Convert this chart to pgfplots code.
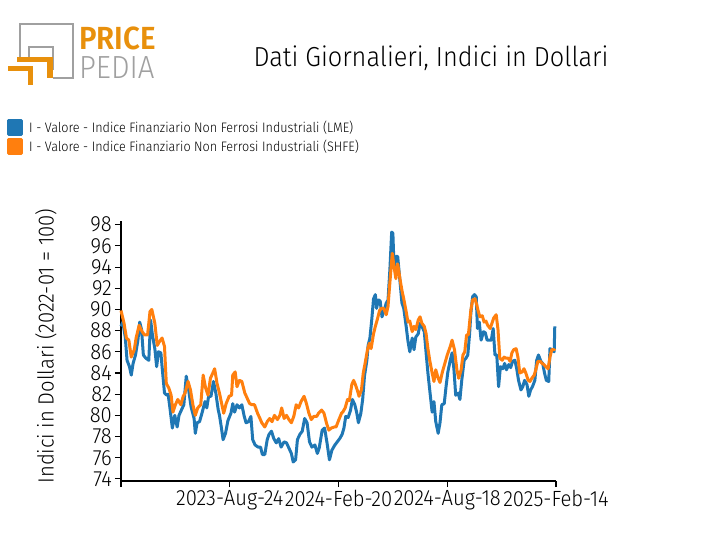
\documentclass[border=0pt]{standalone}
\usepackage{pgfplots}
\pgfplotsset{compat=1.18}
\usepackage{fontspec}
\setmainfont{Fira Sans}[UprightFont=* Light, BoldFont=* SemiBold, FakeStretch=0.92]
\definecolor{lmeblue}{HTML}{1F77B4}
\definecolor{shfeorange}{HTML}{FF7F0E}
\definecolor{ppgray}{HTML}{A0A0A0}
\definecolor{pporange}{HTML}{E8900C}
\begin{document}
\begin{tikzpicture}[x=1pt,y=1pt]
\begin{axis}[scale only axis,
  width=435pt, height=260pt,
  xmin=0, xmax=720, ymin=73.8, ymax=98.35,
  axis lines=left, axis line style={-, line width=1.3pt, black},
  tick align=outside, major tick length=6pt,
  tick style={black, line width=1.1pt},
  ytick={74,76,...,98},
  xtick={0,180,360,540,720},
  xticklabels={,2023-Aug-24,2024-Feb-20,2024-Aug-18,2025-Feb-14},
  /pgf/number format/assume math mode=true,
  tick label style={font=\fontsize{22}{22}\selectfont},
  yticklabel style={inner xsep=3pt},
  xticklabel style={inner ysep=3pt},
  ylabel={Indici in Dollari (2022-01 = 100)},
  every axis y label/.style={at={(axis description cs:-0.1724,0.519)}, rotate=90, anchor=center, font=\fontsize{22}{22}\selectfont},
  legend style={at={(axis description cs:-0.262,1.392)}, anchor=north west, draw=none, fill=none, inner sep=0pt, font=\fontsize{13.7}{13.7}\selectfont, row sep=2pt, nodes={inner sep=0pt, anchor=west}, /tikz/every odd column/.append style={column sep=6pt}},
  legend cell align=left,
  legend image code/.code={\fill[#1] (0pt,-7pt) rectangle (13pt,7pt);},
  clip=false,
]
\coordinate (O) at (rel axis cs:0,0);
\addplot[lmeblue, line width=3pt, line join=round] coordinates {
(0,88.4)(3,88.8)(7,87.4)(10,85.2)(14,84.6)(17,83.8)(20,84.9)(24,85.7)(28,87.1)(31,88.8)(34,88.1)(37,85.7)(41,85.4)(46,85.2)(49,89.0)(52,87.6)(56,86.3)(59,84.6)(62,86.0)(66,85.9)(68,84.6)(72,82.1)(76,81.9)(78,82.0)(81,80.7)(85,78.8)(89,80.0)(93,78.9)(96,80.0)(100,80.5)(104,81.0)(108,83.7)(112,82.4)(116,80.8)(121,79.7)(123,78.3)(126,79.3)(130,79.4)(134,80.2)(139,81.3)(142,80.7)(145,81.8)(149,81.8)(153,83.2)(157,82.1)(161,80.5)(163,80.0)(166,78.9)(169,77.7)(173,78.3)(177,79.5)(182,80.2)(185,81.1)(188,80.3)(192,81.0)(196,80.7)(200,81.0)(204,79.9)(207,79.3)(211,79.4)(215,79.9)(218,77.7)(222,77.2)(227,77.0)(231,77.0)(234,76.3)(238,76.3)(242,77.7)(245,78.2)(249,78.5)(253,77.8)(257,77.4)(261,77.8)(265,77.0)(270,77.5)(274,77.4)(278,76.9)(282,76.4)(285,75.6)(289,75.8)(292,77.7)(296,78.2)(300,78.5)(304,79.7)(308,79.3)(312,77.5)(316,77.0)(321,77.2)(325,76.4)(328,76.9)(333,78.6)(337,78.8)(341,77.4)(345,75.8)(349,76.7)(354,77.2)(358,77.5)(362,77.8)(366,78.2)(369,78.8)(372,79.9)(376,79.8)(380,80.5)(383,81.5)(387,81.0)(390,80.3)(393,79.3)(397,80.2)(400,81.5)(403,83.7)(407,85.2)(409,86.6)(412,87.3)(415,89.0)(418,91.0)(421,91.4)(423,90.1)(426,90.9)(429,90.8)(432,89.3)(435,89.8)(439,90.6)(442,90.9)(445,93.7)(448,97.3)(450,97.2)(452,94.0)(455,95.0)(458,95.0)(462,92.5)(465,90.6)(468,90.1)(472,88.4)(475,87.0)(478,86.0)(482,87.3)(485,86.2)(488,87.4)(492,87.7)(495,88.7)(498,88.4)(502,87.9)(505,85.9)(508,84.0)(511,82.4)(515,80.3)(518,81.3)(521,79.4)(525,78.3)(528,79.3)(531,81.0)(535,81.1)(538,82.7)(541,84.1)(545,85.2)(548,85.9)(551,84.4)(554,81.9)(558,82.1)(561,81.5)(564,83.3)(568,85.2)(571,85.4)(574,85.7)(577,87.7)(579,89.6)(582,91.2)(585,91.4)(588,91.2)(590,88.2)(593,88.8)(596,87.1)(600,87.9)(603,87.8)(606,87.1)(610,87.1)(613,87.1)(616,88.2)(619,85.7)(622,85.7)(625,82.7)(628,84.6)(632,84.4)(635,84.9)(638,84.3)(642,84.8)(645,84.5)(648,85.1)(652,85.2)(655,84.4)(658,83.3)(662,82.4)(665,82.7)(668,83.3)(672,82.9)(675,81.8)(678,82.4)(681,82.7)(685,83.3)(688,85.2)(691,85.7)(695,85.1)(698,84.9)(701,84.0)(704,83.3)(708,83.2)(710,86.3)(713,86.2)(717,86.0)(718,88.4)
};
\addlegendentry{I - Valore - Indice Finanziario Non Ferrosi Industriali (LME)}
\addplot[shfeorange, line width=3pt, line join=round] coordinates {
(0,89.9)(5,88.7)(9,87.3)(13,87.1)(17,85.5)(22,86.2)(25,87.3)(30,88.5)(35,87.9)(39,87.6)(44,87.6)(48,89.8)(51,90.0)(56,88.7)(60,86.6)(64,87.0)(68,87.3)(72,86.5)(75,83.0)(79,82.6)(83,81.9)(86,80.3)(90,81.0)(94,81.5)(99,81.0)(103,81.8)(106,82.1)(111,83.2)(115,82.4)(119,81.0)(123,80.0)(127,80.7)(132,81.0)(136,83.8)(140,82.6)(144,81.9)(148,83.5)(152,84.0)(155,84.4)(159,83.0)(163,82.1)(167,81.0)(170,80.2)(174,81.1)(179,81.8)(183,81.9)(185,83.8)(189,84.1)(192,82.7)(196,83.3)(200,83.2)(205,82.1)(209,81.6)(213,81.1)(217,81.0)(221,81.0)(226,80.2)(230,79.7)(233,79.3)(238,78.9)(242,79.4)(246,79.7)(250,79.4)(254,80.0)(259,79.6)(263,80.0)(266,80.7)(270,79.7)(274,80.0)(278,79.6)(282,79.3)(286,79.9)(290,81.0)(294,80.7)(298,81.3)(303,81.8)(307,81.1)(311,80.2)(315,79.6)(319,79.9)(324,79.9)(327,80.2)(332,80.5)(336,80.2)(340,79.3)(344,78.6)(348,78.8)(353,78.9)(356,78.9)(360,79.5)(365,80.2)(367,80.3)(371,80.7)(375,81.5)(378,81.4)(382,82.9)(385,83.3)(388,82.9)(391,82.4)(394,81.8)(398,82.4)(401,84.0)(404,84.9)(408,86.2)(411,86.8)(414,86.3)(418,87.7)(421,88.4)(424,89.0)(428,89.9)(431,90.1)(435,90.1)(439,89.5)(442,90.3)(445,92.5)(449,95.3)(452,94.0)(455,92.9)(458,94.3)(462,92.8)(465,91.8)(468,91.0)(472,89.8)(475,88.8)(478,88.9)(482,87.9)(485,88.4)(488,88.1)(492,89.0)(495,89.3)(498,88.7)(502,88.4)(505,87.7)(508,86.3)(511,85.2)(515,84.0)(518,83.2)(521,84.3)(525,83.5)(528,83.1)(532,84.1)(536,84.9)(540,85.7)(545,86.5)(548,87.1)(552,86.2)(556,84.3)(559,83.5)(563,84.3)(566,85.7)(569,86.0)(572,87.6)(575,87.6)(579,89.9)(582,90.9)(586,91.0)(589,90.4)(591,89.9)(594,89.3)(598,89.4)(601,88.8)(604,88.9)(607,88.5)(611,88.2)(614,88.7)(617,89.2)(621,89.5)(624,88.1)(627,85.4)(631,85.2)(634,85.5)(637,85.4)(641,85.4)(644,85.1)(647,85.9)(650,86.2)(654,86.3)(657,85.5)(660,84.0)(664,84.1)(667,84.4)(670,84.0)(674,83.3)(677,83.2)(680,83.5)(684,83.8)(687,84.4)(690,85.1)(694,85.1)(697,84.9)(700,84.8)(703,84.6)(707,84.4)(710,85.5)(713,86.2)(717,86.2)(718,86.3)
};
\addlegendentry{I - Valore - Indice Finanziario Non Ferrosi Industriali (SHFE)}
\end{axis}
\begin{scope}[shift={(O)}]
\begin{scope}[shift={(-121,-74)}]
% logo
\draw[ppgray, line width=2.6pt] (20,498) -- (20,531) -- (73,531) -- (73,477) -- (53,477);
\draw[ppgray, line width=2.6pt] (29,498) -- (29,508) -- (53,508) -- (53,485);
\fill[pporange] (17,498) rectangle (53,493);
\fill[pporange] (47,498) rectangle (53,477);
\fill[pporange] (8,489) rectangle (33,484);
\fill[pporange] (28,489) rectangle (33,470);
\node[anchor=north west, inner sep=0pt, text=pporange, font=\bfseries\fontsize{32}{32}\selectfont] at (79,528) {PRICE};
\node[anchor=north west, inner sep=0pt, text=ppgray, font=\fontsize{32}{32}\selectfont] at (79,499) {PEDIA};
\node[font=\fontsize{27.5}{27.5}\selectfont] at (431,497) {Dati Giornalieri, Indici in Dollari};
\end{scope}
\end{scope}
\pgfresetboundingbox
\path (O) ++(-121,-74) rectangle ++(712,555);
\end{tikzpicture}
\end{document}
